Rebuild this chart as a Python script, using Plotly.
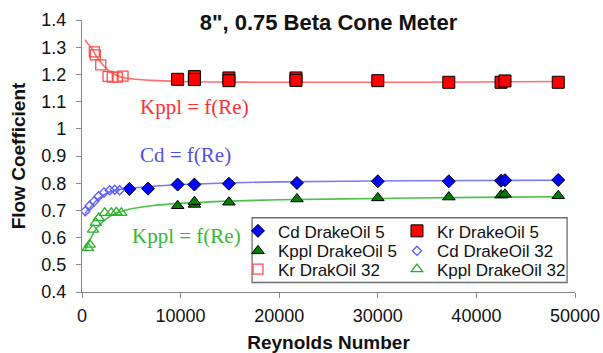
import plotly.graph_objects as go

# Reynolds numbers and flow coefficients, 8" 0.75 beta cone meter
re_cd5 = [4800, 6700, 9700, 11400, 14900, 21800, 30000, 37200, 42500, 42900, 48300]
cd5 = [0.779, 0.780, 0.795, 0.795, 0.798, 0.801, 0.807, 0.807, 0.809, 0.811, 0.812]

re_kr5 = [9700, 11400, 11400, 14900, 14900, 21700, 21700, 30000, 37200, 42500, 42900, 48300]
kr5 = [1.182, 1.192, 1.181, 1.187, 1.177, 1.187, 1.178, 1.177, 1.171, 1.171, 1.176, 1.171]

re_kppl5 = [9700, 11400, 11400, 14900, 21800, 30000, 37200, 42500, 42900, 48300]
kppl5 = [0.717, 0.722, 0.732, 0.730, 0.742, 0.746, 0.749, 0.756, 0.759, 0.754]

re_cd32 = [330, 780, 1220, 1690, 2230, 2810, 3320, 3820]
cd32 = [0.697, 0.717, 0.733, 0.752, 0.766, 0.774, 0.776, 0.774]

re_kr32 = [1250, 1350, 1900, 2640, 3070, 3580, 4160]
kr32 = [1.283, 1.272, 1.235, 1.193, 1.190, 1.190, 1.194]

re_kppl32 = [600, 780, 1120, 1400, 1700, 2300, 2970, 3480, 3980]
kppl32 = [0.562, 0.574, 0.629, 0.654, 0.672, 0.691, 0.691, 0.693, 0.691]

# fitted curves f(Re)
re_fit = [300, 600, 1000, 1500, 2000, 2500, 3000, 4000, 5000, 7000, 10000,
          15000, 20000, 30000, 40000, 48800]
kr_fit = [1.327, 1.313, 1.295, 1.265, 1.240, 1.221, 1.206, 1.190, 1.184, 1.178,
          1.174, 1.172, 1.171, 1.171, 1.172, 1.174]
cd_fit = [0.688, 0.702, 0.718, 0.738, 0.752, 0.763, 0.770, 0.778, 0.782, 0.788,
          0.795, 0.801, 0.805, 0.808, 0.810, 0.811]
kppl_fit = [0.550, 0.575, 0.605, 0.635, 0.655, 0.670, 0.682, 0.697, 0.706, 0.717,
            0.726, 0.734, 0.739, 0.744, 0.748, 0.750]

SANS = "Liberation Sans, Arial, sans-serif"
SERIF = "Liberation Serif, Times New Roman, serif"
AXIS_GREY = "#868686"

fig = go.Figure()

# fitted lines (drawn first, behind markers)
for ys, col in [(kr_fit, "#FF6F6F"), (cd_fit, "#7B7BF0"), (kppl_fit, "#4CC24C")]:
    fig.add_trace(go.Scatter(x=re_fit, y=ys, mode="lines", showlegend=False,
                             line=dict(color=col, width=1.6, shape="spline"),
                             hoverinfo="skip"))

# each legend entry gets its own legend box so the 2x3 grid can be placed exactly
edge = dict(color="black", width=1)
series = [
    ("Cd DrakeOil 5", re_cd5, cd5, dict(symbol="diamond", size=10, color="#0000FF", line=edge), "legend"),
    ("Kr DrakeOil 5", re_kr5, kr5, dict(symbol="square", size=12, color="#FF0000", line=edge), "legend2"),
    ("Kppl DrakeOil 5", re_kppl5, kppl5, dict(symbol="triangle-up", size=11, color="#008000", line=edge), "legend3"),
    ("Cd DrakeOil 32", re_cd32, cd32, dict(symbol="diamond-open", size=7, color="#5A5AFF", line=dict(width=1.3)), "legend4"),
    ("Kr DrakOil 32", re_kr32, kr32, dict(symbol="square-open", size=10, color="#FF4D4D", line=dict(width=1.3)), "legend5"),
    ("Kppl DrakeOil 32", re_kppl32, kppl32, dict(symbol="triangle-up-open", size=10, color="#2DAF2D", line=dict(width=1.3)), "legend6"),
]
for name, xs, ys, mk, lg in series:
    fig.add_trace(go.Scatter(x=xs, y=ys, mode="markers", name=name, marker=mk, legend=lg))

# curve labels
notes = [
    ("Kppl = f(Re)", 11410, 1.081, "#FF3030"),
    ("Cd = f(Re)", 10500, 0.903, "#4F4FE6"),
    ("Kppl = f(Re)", 10550, 0.6055, "#35B835"),
]
for txt, xv, yv, col in notes:
    fig.add_annotation(x=xv, y=yv, text=txt, showarrow=False, xanchor="center",
                       yanchor="middle", font=dict(family=SERIF, size=21, color=col))

# legend frame
fig.add_shape(type="rect", xref="paper", yref="paper", x0=0.345, x1=0.984,
              y0=0.035, y1=0.273, line=dict(color="#6E6E6E", width=1.3),
              fillcolor="white", layer="below")

leg = dict(orientation="v", bgcolor="rgba(0,0,0,0)", borderwidth=0,
           xanchor="left", yanchor="middle",
           font=dict(family=SANS, size=17, color="#111"),
           itemclick=False, itemdoubleclick=False)
col_x = [0.3164, 0.6389]
row_y = [0.2231, 0.1497, 0.0826]

fig.update_layout(
    width=603, height=353,
    margin=dict(l=82, r=28, t=20, b=60.5, autoexpand=False),
    paper_bgcolor="white", plot_bgcolor="white",
    font=dict(family=SANS, color="#111"),
    title=dict(text="<b>8\", 0.75 Beta Cone Meter</b>", x=0.5, xref="paper",
               xanchor="center", y=1 - 22 / 353, yref="container", yanchor="middle",
               font=dict(family=SANS, size=22, color="#111")),
    legend=dict(leg, x=col_x[0], y=row_y[0]),
    legend2=dict(leg, x=col_x[1], y=row_y[0]),
    legend3=dict(leg, x=col_x[0], y=row_y[1]),
    legend4=dict(leg, x=col_x[1], y=row_y[1]),
    legend5=dict(leg, x=col_x[0], y=row_y[2]),
    legend6=dict(leg, x=col_x[1], y=row_y[2]),
    xaxis=dict(range=[0, 50000], dtick=10000, tick0=0, tickformat="d",
               showgrid=False, zeroline=False, automargin=False,
               showline=True, linecolor=AXIS_GREY, linewidth=1.3, ticks="outside",
               ticklen=5, tickcolor=AXIS_GREY, tickwidth=1.3, ticklabelstandoff=2,
               tickfont=dict(family=SANS, size=18, color="#111"),
               title=dict(text="<b>Reynolds Number</b>", standoff=12,
                          font=dict(family=SANS, size=19, color="#111"))),
    yaxis=dict(range=[0.4, 1.4], dtick=0.1, tick0=0.4, showgrid=False, zeroline=False,
               automargin=False,
               showline=True, linecolor=AXIS_GREY, linewidth=1.3, ticks="outside",
               ticklen=5, tickcolor=AXIS_GREY, tickwidth=1.3, ticklabelstandoff=6,
               tickfont=dict(family=SANS, size=18, color="#111"),
               title=dict(text="<b>Flow Coefficient</b>", standoff=10,
                          font=dict(family=SANS, size=19, color="#111"))),
)

fig.write_html("out.html")
